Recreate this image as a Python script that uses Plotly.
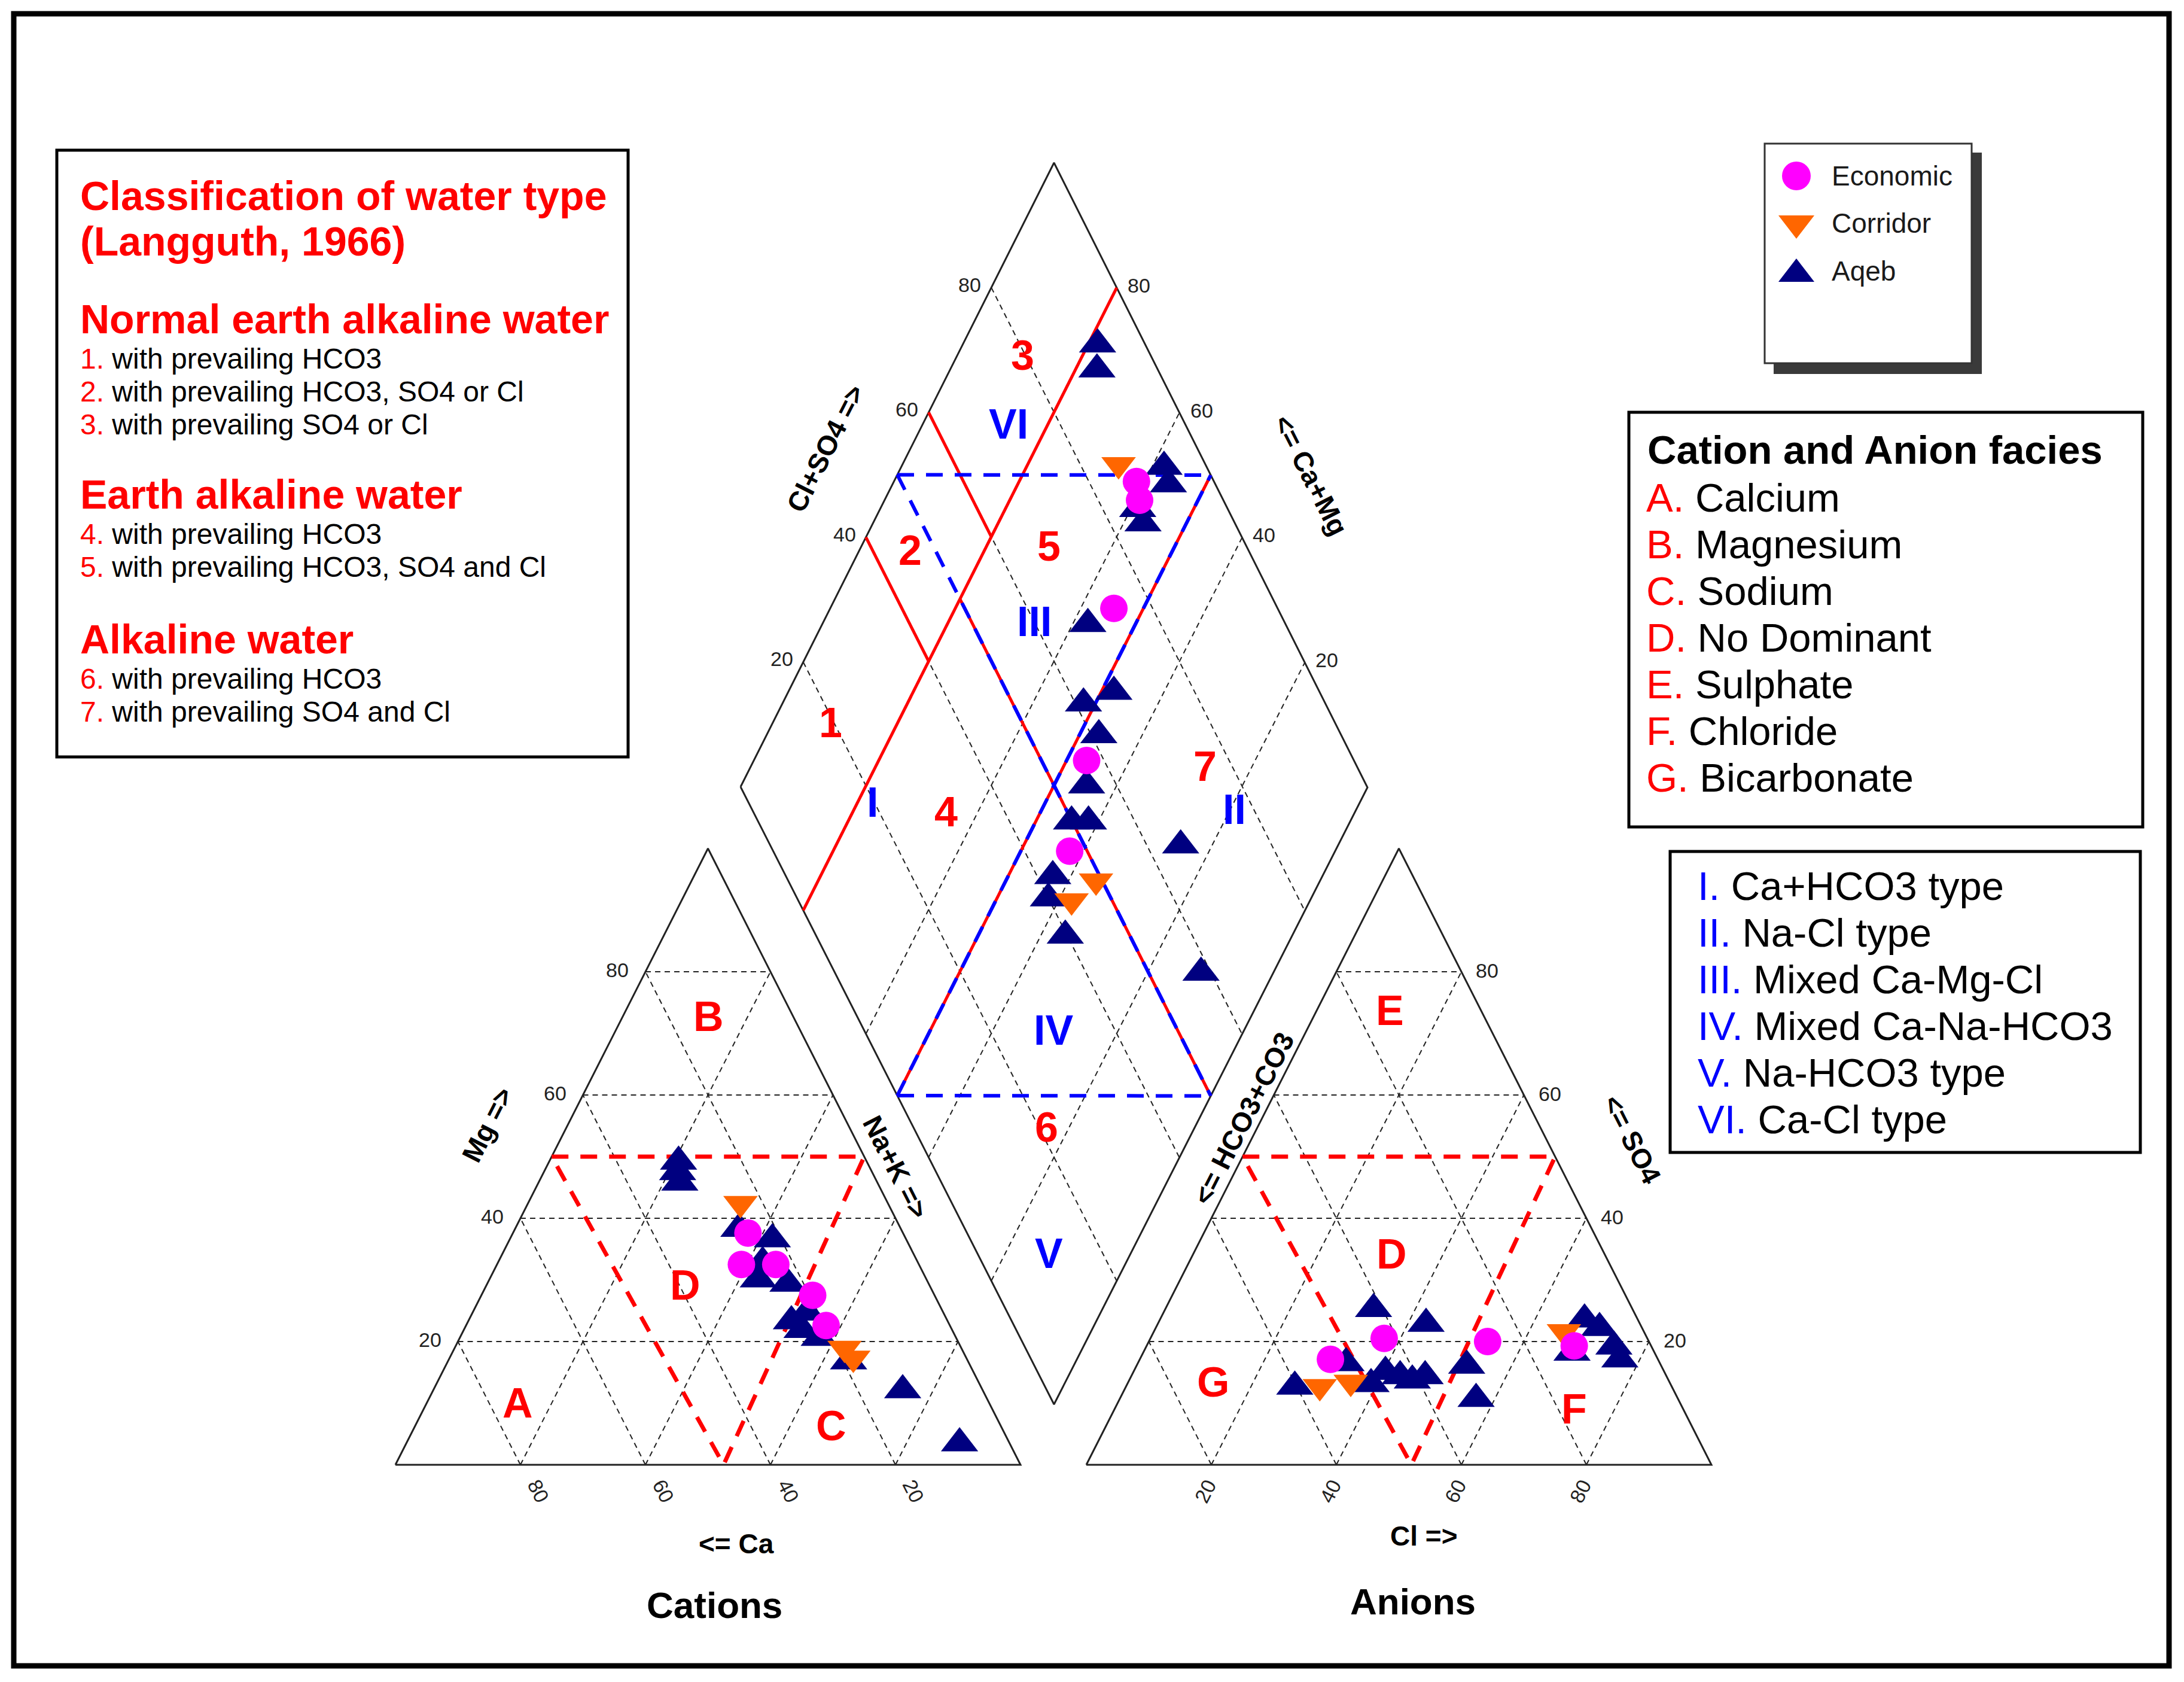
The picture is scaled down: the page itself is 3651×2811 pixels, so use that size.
import plotly.graph_objects as go

# Piper diagram (Langguth 1966 / Piper facies), three sample groups
# all values are % meq/L read per sub-plot

# cation triangle: Na+K and Mg (Ca = remainder)
eco_cat_nak = [37.6, 39.1, 44.6, 53.0, 57.6]
eco_cat_mg = [37.6, 32.5, 32.5, 27.5, 22.6]
cor_cat_nak = [34.0, 62.4, 64.6]
cor_cat_mg = [42.4, 18.9, 17.3]
aqb_cat_nak = [20.7, 21.4, 22.6, 35.8, 42.0, 42.3, 43.0, 48.1, 51.7, 53.5, 54.1, 57.5, 64.1, 75.1, 88.5]
aqb_cat_mg = [49.2, 47.5, 45.8, 38.3, 36.6, 32.9, 30.1, 29.4, 23.3, 24.7, 21.9, 20.6, 16.8, 12.1, 3.5]

# anion triangle: Cl and SO4 (HCO3+CO3 = remainder)
eco_an_cl = [30.5, 37.4, 54.2, 68.4]
eco_an_so4 = [17.1, 20.5, 20.0, 19.3]
cor_an_cl = [31.0, 35.6, 65.6]
cor_an_so4 = [12.7, 13.4, 21.6]
aqb_an_cl = [27.0, 33.3, 33.3, 39.0, 40.3, 43.0, 45.3, 47.0, 42.9, 52.8, 57.0, 67.9, 71.0, 74.8, 76.8, 68.6]
aqb_an_so4 = [12.7, 16.5, 25.3, 13.1, 15.1, 14.4, 13.7, 14.4, 22.9, 16.1, 10.7, 23.6, 22.2, 19.2, 17.1, 18.2]

# diamond: Na+K and Cl+SO4
eco_dia_nak = [38.7, 40.7, 45.3, 53.2, 57.8]
eco_dia_clso4 = [87.6, 86.6, 73.8, 57.2, 47.2]
cor_dia_nak = [34.5, 64.4, 62.1]
cor_dia_clso4 = [86.1, 49.0, 43.5]
aqb_dia_nak = [21.5, 23.4, 41.9, 44.0, 41.1, 43.1, 42.4, 48.1, 52.0, 53.1, 55.2, 55.7, 58.4, 57.1, 58.2, 63.9, 75.0, 88.5]
aqb_dia_clso4 = [92.4, 90.3, 93.2, 92.5, 85.6, 85.3, 68.4, 61.3, 67.1, 61.2, 55.2, 49.9, 52.6, 42.5, 40.0, 39.7, 65.4, 58.4]

ticks = [20, 40, 60, 80]
groups = ["Economic", "Corridor", "Aqeb"]

FONT = "Liberation Sans, Arial, sans-serif"
RED = "#ff0000"
BLUE = "#0000ff"
NAVY = "#000080"
MAGENTA = "#ff00ff"
ORANGE = "#ff6600"
INK = "#222222"

# geometry in page pixels
TW, TH, TB = 1045, 1030, 2448
CAT_X0, AN_X0 = 661, 1816
DL, DB, DT, DR = (1238, 1315), (1762, 2347), (1762, 272), (2286, 1316)


def cat_xy(nak, mg):
    return CAT_X0 + TW * (nak + mg / 2) / 100, TB - TH * mg / 100


def an_xy(cl, so4):
    return AN_X0 + TW * (cl + so4 / 2) / 100, TB - TH * so4 / 100


def dia_xy(nak, clso4):
    a, b = nak / 100, clso4 / 100
    w = ((1 - a) * (1 - b), a * (1 - b), (1 - a) * b, a * b)
    pts = (DL, DB, DT, DR)
    return (sum(wi * p[0] for wi, p in zip(w, pts)),
            sum(wi * p[1] for wi, p in zip(w, pts)))


def project(fn, u, v):
    xy = [fn(p, q) for p, q in zip(u, v)]
    return [p[0] for p in xy], [p[1] for p in xy]


def polyline(fn, paths):
    xs, ys = [], []
    for path in paths:
        for p, q in path:
            x, y = fn(p, q)
            xs.append(x)
            ys.append(y)
        xs.append(None)
        ys.append(None)
    return xs, ys


def tri_grid():
    out = []
    for k in ticks:
        out.append([(0, k), (100 - k, k)])
        out.append([(k, 0), (k, 100 - k)])
        out.append([(100 - k, 0), (0, 100 - k)])
    return out


def dia_grid():
    out = []
    for k in ticks:
        out.append([(k, 0), (k, 100)])
        out.append([(0, k), (100, k)])
    return out


def both(fn_a, paths_a, fn_b, paths_b):
    xa, ya = polyline(fn_a, paths_a)
    xb, yb = polyline(fn_b, paths_b)
    return xa + xb, ya + yb


fig = go.Figure()


def line_trace(xs, ys, color, width, dash="solid"):
    fig.add_trace(go.Scatter(x=xs, y=ys, mode="lines", hoverinfo="skip",
                             line=dict(color=color, width=width, dash=dash)))


# dashed grids
gx, gy = both(cat_xy, tri_grid(), an_xy, tri_grid())
dx, dy = polyline(dia_xy, dia_grid())
line_trace(gx + dx, gy + dy, INK, 2, "9px,7px")

# outlines
tri_edge = [[(0, 0), (100, 0), (0, 100), (0, 0)]]
ex, ey = both(cat_xy, tri_edge, an_xy, tri_edge)
ddx, ddy = polyline(dia_xy, [[(0, 0), (100, 0), (100, 100), (0, 100), (0, 0)]])
line_trace(ex + ddx, ey + ddy, INK, 3)

# cation / anion facies boundaries (red dashed)
fx, fy = both(cat_xy, [[(0, 50), (50, 50), (52.5, 0), (0, 50)]],
              an_xy, [[(0, 50), (50, 50), (52, 0), (0, 50)]])
line_trace(fx, fy, RED, 7, "28px,20px")

# Langguth classes in the diamond (red solid)
lang = [[(20, 0), (20, 100)], [(0, 40), (20, 40)], [(0, 60), (20, 60)],
        [(20, 50), (100, 50)], [(50, 0), (50, 100)]]
lx, ly = polyline(dia_xy, lang)
line_trace(lx, ly, RED, 5)

# Piper facies I-VI (blue dashed)
facies = [[(0, 50), (50, 100)], [(50, 0), (100, 50)],
          [(0, 50), (100, 50)], [(50, 0), (50, 100)]]
bx, by = polyline(dia_xy, facies)
line_trace(bx, by, BLUE, 6, "28px,20px")

# samples
series = [
    ("Aqeb", NAVY, "triangle-up", 54,
     (aqb_cat_nak, aqb_cat_mg), (aqb_an_cl, aqb_an_so4), (aqb_dia_nak, aqb_dia_clso4)),
    ("Corridor", ORANGE, "triangle-down", 50,
     (cor_cat_nak, cor_cat_mg), (cor_an_cl, cor_an_so4), (cor_dia_nak, cor_dia_clso4)),
    ("Economic", MAGENTA, "circle", 46,
     (eco_cat_nak, eco_cat_mg), (eco_an_cl, eco_an_so4), (eco_dia_nak, eco_dia_clso4)),
]
for name, color, symbol, size, cat, an, dia in series:
    cx, cy = project(cat_xy, *cat)
    ax, ay = project(an_xy, *an)
    qx, qy = project(dia_xy, *dia)
    fig.add_trace(go.Scatter(x=cx + ax + qx, y=cy + ay + qy, mode="markers", name=name,
                             marker=dict(color=color, symbol=symbol, size=size,
                                         line=dict(width=0))))

# hand-made legend (plotly caps legend symbols at 16px)
leg_sym = {"Economic": ("circle", MAGENTA, 48), "Corridor": ("triangle-down", ORANGE, 52),
           "Aqeb": ("triangle-up", NAVY, 52)}
leg_y = [294, 373, 458]
for g, yy in zip(groups, leg_y):
    s, c, sz = leg_sym[g]
    fig.add_trace(go.Scatter(x=[3003], y=[yy], mode="markers", hoverinfo="skip",
                             marker=dict(symbol=s, color=c, size=sz, line=dict(width=0))))

ann = []


def txt(x, y, text, size, color="black", bold=False, anchor="center", angle=0):
    if bold:
        text = "<b>" + text + "</b>"
    ann.append(dict(x=x, y=y, xref="x", yref="y", text=text, showarrow=False,
                    xanchor=anchor, yanchor="middle", textangle=angle,
                    font=dict(family=FONT, size=size, color=color)))


# tick labels
for k in ticks:
    x, y = cat_xy(0, k)
    txt(x - 47, y - 3, str(k), 34, INK)
    x, y = cat_xy(100 - k, 0)
    txt(x + 30, y + 44, str(k), 34, INK, angle=63)
    x, y = an_xy(100 - k, k)
    txt(x + 43, y - 2, str(k), 34, INK)
    x, y = an_xy(k, 0)
    txt(x - 10, y + 44, str(k), 34, INK, angle=-63)
    x, y = dia_xy(0, k)
    txt(x - 36, y - 5, str(k), 34, INK)
    x, y = dia_xy(100 - k, 100)
    txt(x + 37, y - 4, str(k), 34, INK)

# axis titles
txt(815, 1880, "Mg =>", 46, bold=True, angle=-63)
txt(1497, 1950, "Na+K =>", 46, bold=True, angle=63)
txt(1231, 2580, "<= Ca", 46, bold=True)
txt(1380, 750, "Cl+SO4 =>", 46, bold=True, angle=-63)
txt(2191, 794, "<= Ca+Mg", 46, bold=True, angle=63)
txt(2079, 1869, "<= HCO3+CO3", 46, bold=True, angle=-63)
txt(2728, 1904, "<= SO4", 46, bold=True, angle=63)
txt(2380, 2567, "Cl =>", 46, bold=True)
txt(1194, 2682, "Cations", 62, bold=True)
txt(2362, 2676, "Anions", 62, bold=True)

# region letters / numbers
for s, x, y in [("A", 865, 2345), ("B", 1184, 1699), ("C", 1389, 2383), ("D", 1145, 2148),
                ("E", 2323, 1689), ("D", 2326, 2096), ("G", 2028, 2310), ("F", 2631, 2355),
                ("1", 1388, 1208), ("2", 1521, 920), ("3", 1709, 594), ("4", 1581, 1357),
                ("5", 1753, 913), ("6", 1749, 1884), ("7", 2014, 1281)]:
    txt(x, y, s, 70, RED, bold=True)
for s, x, y in [("I", 1458, 1341), ("II", 2063, 1353), ("III", 1729, 1039),
                ("IV", 1761, 1722), ("V", 1753, 2095), ("VI", 1686, 709)]:
    txt(x, y, s, 70, BLUE, bold=True)

# left classification box
txt(132, 327, "Classification of water type", 68, RED, bold=True, anchor="left")
txt(132, 403, "(Langguth, 1966)", 68, RED, bold=True, anchor="left")
sections = [("Normal earth alkaline water", 533,
             ["with prevailing HCO3", "with prevailing HCO3, SO4 or Cl", "with prevailing SO4 or Cl"]),
            ("Earth alkaline water", 826,
             ["with prevailing HCO3", "with prevailing HCO3, SO4 and Cl"]),
            ("Alkaline water", 1068,
             ["with prevailing HCO3", "with prevailing SO4 and Cl"])]
n = 1
for head, y0, items in sections:
    txt(132, y0, head, 68, RED, bold=True, anchor="left")
    for i, it in enumerate(items):
        txt(132, y0 + 66 + 55 * i,
            "<span style='color:%s'>%d.</span> %s" % (RED, n, it), 48, anchor="left")
        n += 1

# facies boxes on the right
txt(2752, 751, "Cation and Anion facies", 67, bold=True, anchor="left")
ion_facies = ["Calcium", "Magnesium", "Sodium", "No Dominant", "Sulphate", "Chloride", "Bicarbonate"]
for i, (lab, name) in enumerate(zip("ABCDEFG", ion_facies)):
    txt(2750, 831 + 78 * i, "<span style='color:%s'>%s.</span> %s" % (RED, lab, name),
        67, anchor="left")
piper_facies = ["Ca+HCO3 type", "Na-Cl type", "Mixed Ca-Mg-Cl", "Mixed Ca-Na-HCO3",
                "Na-HCO3 type", "Ca-Cl type"]
for i, (lab, name) in enumerate(zip(["I", "II", "III", "IV", "V", "VI"], piper_facies)):
    txt(2836, 1480 + 78 * i, "<span style='color:%s'>%s.</span> %s" % (BLUE, lab, name),
        67, anchor="left")

# legend labels
for g, yy in zip(groups, [294, 373, 453]):
    txt(3060, yy, g, 46, "#1a1a1a", anchor="left")

shapes = [
    dict(type="rect", x0=23, y0=23, x1=3626, y1=2784, line=dict(color="black", width=9)),
    dict(type="rect", x0=95, y0=251, x1=1050, y1=1265, line=dict(color="black", width=5)),
    dict(type="rect", x0=2723, y0=689, x1=3582, y1=1382, line=dict(color="black", width=5)),
    dict(type="rect", x0=2792, y0=1423, x1=3578, y1=1926, line=dict(color="black", width=5)),
    dict(type="rect", x0=2966, y0=256, x1=3312, y1=624, fillcolor="#3a3a3a",
         line=dict(color="#3a3a3a", width=2)),
    dict(type="rect", x0=2950, y0=240, x1=3296, y1=607, fillcolor="white",
         line=dict(color="#333333", width=3)),
]
for s in shapes:
    s.update(xref="x", yref="y", layer="below")

# the page body has an 8px margin: make data units equal page pixels
fig.update_layout(
    width=3635, height=2795,
    margin=dict(l=0, r=0, t=0, b=0),
    xaxis=dict(range=[8, 3643], visible=False),
    yaxis=dict(range=[2803, 8], visible=False),
    plot_bgcolor="white", paper_bgcolor="white",
    showlegend=False,
    shapes=shapes,
    annotations=ann,
)

fig.write_html("out.html", config={"displayModeBar": False})
